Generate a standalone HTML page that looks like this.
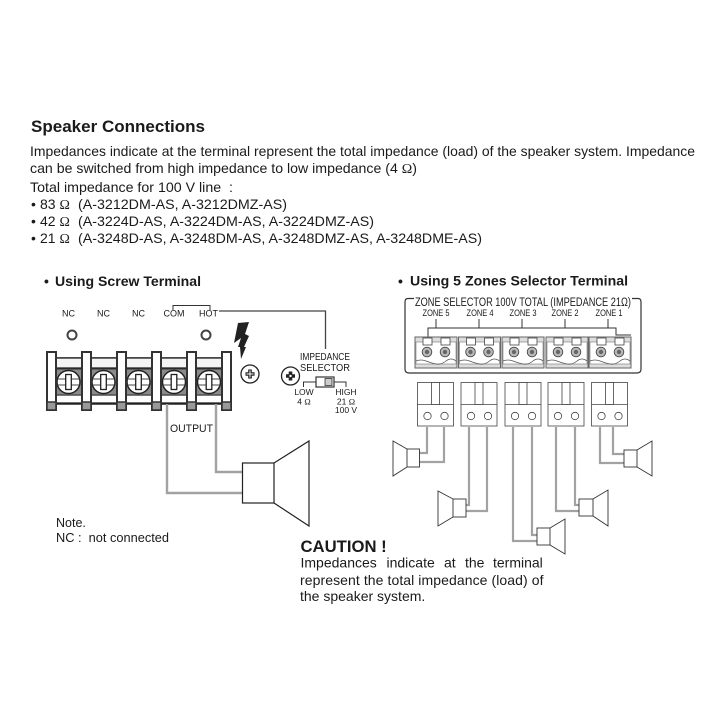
<!DOCTYPE html>
<html><head><meta charset="utf-8"><style>
html,body{margin:0;padding:0;background:#fff}
svg{display:block;filter:blur(.35px)}
text{font-family:"Liberation Sans",sans-serif;fill:#1a1a1a;white-space:pre}
.o{font-family:"Liberation Serif",serif}
</style></head><body>
<svg width="720" height="720" viewBox="0 0 720 720" xmlns="http://www.w3.org/2000/svg">
<defs>
<g id="post"><rect x="0" y="0" width="9" height="58" fill="#fff" stroke="#333" stroke-width="2"/><rect x="0" y="50" width="9" height="8" fill="#999" stroke="#333" stroke-width="1.500"/></g>
<g id="screw">
<rect x="-13" y="-13" width="26" height="26" fill="#8a8a8a" stroke="#333"/>
<circle r="11.500" fill="#fff" stroke="#222" stroke-width="1.500"/>
<path d="M-11 -3H11M-11 3H11" stroke="#444" stroke-width="1.100"/>
<rect x="-2.800" y="-7.500" width="5.600" height="15" fill="#fff" stroke="#222" stroke-width="1.300"/>
</g>
<g id="conn">
<rect x="0" y="0" width="42" height="31" fill="#ddd" stroke="#666"/>
<rect x="1" y="5" width="40" height="22" fill="#fff" stroke="#777" stroke-width=".6"/>
<path d="M1 24q5-2 10 0t10 3 10-3 10 0" fill="none" stroke="#555" stroke-width=".8"/>
<rect x="8" y="1" width="9" height="7" fill="#fff" stroke="#444" stroke-width=".8"/>
<rect x="26" y="1" width="9" height="7" fill="#fff" stroke="#444" stroke-width=".8"/>
<circle cx="12" cy="15" r="4.800" fill="#bbb" stroke="#444" stroke-width=".9"/><circle cx="12" cy="15" r="2.200" fill="#666"/>
<circle cx="30" cy="15" r="4.800" fill="#bbb" stroke="#444" stroke-width=".9"/><circle cx="30" cy="15" r="2.200" fill="#666"/>
</g>
<g id="plug" fill="#fff" stroke="#444" stroke-width=".8">
<rect x="0" y="0" width="36" height="43.500"/>
<path d="M0 22H36"/>
<rect x="14" y="0" width="8" height="22"/>
<circle cx="10" cy="33.500" r="3.700"/><circle cx="27" cy="33.500" r="3.700"/>
</g>
</defs>

<text x="31" y="132" font-size="17" font-weight="bold" fill="#111" textLength="174" lengthAdjust="spacingAndGlyphs">Speaker Connections</text>
<g font-size="14">
<text x="30" y="156" textLength="665" lengthAdjust="spacingAndGlyphs">Impedances indicate at the terminal represent the total impedance (load) of the speaker system. Impedance</text>
<text x="30" y="173" textLength="387" lengthAdjust="spacingAndGlyphs">can be switched from high impedance to low impedance (4 <tspan class="o">Ω</tspan>)</text>
<text x="30" y="192" textLength="203" lengthAdjust="spacingAndGlyphs">Total impedance for 100 V line  :</text>
<text x="31" y="209">•</text><text x="40" y="209">83 <tspan class="o">Ω</tspan></text><text x="78" y="209" textLength="209" lengthAdjust="spacingAndGlyphs">(A-3212DM-AS, A-3212DMZ-AS)</text>
<text x="31" y="226">•</text><text x="40" y="226">42 <tspan class="o">Ω</tspan></text><text x="78" y="226" textLength="296" lengthAdjust="spacingAndGlyphs">(A-3224D-AS, A-3224DM-AS, A-3224DMZ-AS)</text>
<text x="31" y="243">•</text><text x="40" y="243">21 <tspan class="o">Ω</tspan></text><text x="78" y="243" textLength="404" lengthAdjust="spacingAndGlyphs">(A-3248D-AS, A-3248DM-AS, A-3248DMZ-AS, A-3248DME-AS)</text>
</g>

<text x="44" y="286" font-size="14" font-weight="bold" fill="#222">•</text>
<text x="55" y="286" font-size="14" font-weight="bold" fill="#222" textLength="146" lengthAdjust="spacingAndGlyphs">Using Screw Terminal</text>
<text x="398" y="286" font-size="14" font-weight="bold" fill="#222">•</text>
<text x="410" y="285.500" font-size="14" font-weight="bold" fill="#222" textLength="218" lengthAdjust="spacingAndGlyphs">Using 5 Zones Selector Terminal</text>

<!-- left labels -->
<g font-size="9" text-anchor="middle">
<text x="68.500" y="316.500" fill="#444">NC</text><text x="103.500" y="316.500" fill="#444">NC</text><text x="138.500" y="316.500" fill="#444">NC</text><text x="174" y="316.500" fill="#444">COM</text><text x="208.500" y="316.500" fill="#444">HOT</text>
</g>
<path d="M173 310V305.500H210V310" fill="none" stroke="#333"/>
<path d="M219 311H325.500V349" fill="none" stroke="#444" stroke-width="1.300"/>
<circle cx="72" cy="335" r="4.500" fill="#fff" stroke="#444" stroke-width="2"/>
<circle cx="206" cy="335" r="4.500" fill="#fff" stroke="#444" stroke-width="2"/>

<!-- terminal block -->
<rect x="50" y="358" width="177" height="46" fill="#fff" stroke="#222" stroke-width="1.500"/>
<rect x="50" y="358" width="177" height="10" fill="#f4f4f4" stroke="#222" stroke-width="1.300"/>
<rect x="50" y="395" width="177" height="8" fill="#fff" stroke="#222" stroke-width="1.300"/>
<use href="#screw" x="68.500" y="382"/><use href="#screw" x="103.500" y="382"/><use href="#screw" x="138.500" y="382"/><use href="#screw" x="174" y="382"/><use href="#screw" x="209" y="382"/>
<use href="#post" x="47" y="352"/><use href="#post" x="82" y="352"/><use href="#post" x="117" y="352"/><use href="#post" x="152" y="352"/><use href="#post" x="187" y="352"/><use href="#post" x="222" y="352"/>

<!-- lightning -->
<path d="M238 323L249 322L245 334L249 336L244 347L246 347L241 359L240 347L238 347L241 338L234 343Z" fill="#222"/>

<!-- small screws -->
<g fill="none" stroke="#222">
<circle cx="250" cy="374" r="9" stroke-width="1.300"/>
<path d="M250 369.500v9M245.500 374h9" stroke-width="3.600"/><path d="M250 370.500v7M246.500 374h7" stroke="#fff" stroke-width="1"/>
<circle cx="290.500" cy="376" r="9" stroke-width="1.300"/>
<path d="M290.500 371.500v9M286 376h9" stroke-width="3.600"/><circle cx="290.500" cy="376" r="1.200" fill="#fff" stroke="none"/>
</g>

<!-- impedance -->
<g text-anchor="middle">
<text x="325" y="360" font-size="10.500" fill="#444" textLength="50" lengthAdjust="spacingAndGlyphs">IMPEDANCE</text>
<text x="325" y="371" font-size="10.500" fill="#444" textLength="50" lengthAdjust="spacingAndGlyphs">SELECTOR</text>
<text x="304" y="395" font-size="8.500" fill="#444">LOW</text><text x="304" y="404.500" font-size="8.500" fill="#444">4 <tspan class="o">Ω</tspan></text>
<text x="346" y="395" font-size="8.500" fill="#444">HIGH</text><text x="346" y="404.500" font-size="8.500" fill="#444">21 <tspan class="o">Ω</tspan></text><text x="346" y="413" font-size="8.500" fill="#444">100 V</text>
</g>
<path d="M303.500 387V382H316M334 382H346V387" fill="none" stroke="#333"/>
<rect x="316" y="377" width="18" height="10" fill="#fff" stroke="#333" stroke-width="1.200"/>
<rect x="325" y="378.500" width="7" height="7" fill="#ccc" stroke="#333" stroke-width=".8"/>

<!-- left wires + speaker -->
<path d="M167 404V493H242M216 404V472H242" fill="none" stroke="#a2a2a2" stroke-width="2.400"/>
<text x="170" y="432" font-size="11" fill="#333" textLength="43" lengthAdjust="spacingAndGlyphs">OUTPUT</text>
<path d="M274 463L309 441V526L274 503" fill="#fff" stroke="#222" stroke-width="1.200"/>
<rect x="242.500" y="463" width="31.500" height="40" fill="#fff" stroke="#222" stroke-width="1.200"/>

<!-- zone frame -->
<path d="M414 298.500H408Q405 298.500 405 302V369Q405 373 409 373H637Q641 373 641 369V302Q641 298.500 638 298.500H632" fill="none" stroke="#333" stroke-width="1.200"/>
<text x="415" y="306" font-size="11.500" fill="#333" textLength="216" lengthAdjust="spacingAndGlyphs">ZONE SELECTOR 100V TOTAL (IMPEDANCE 21Ω)</text>
<g font-size="9" text-anchor="middle">
<text x="436" y="316" fill="#333" textLength="27" lengthAdjust="spacingAndGlyphs">ZONE 5</text>
<text x="480" y="316" fill="#333" textLength="27" lengthAdjust="spacingAndGlyphs">ZONE 4</text>
<text x="523" y="316" fill="#333" textLength="27" lengthAdjust="spacingAndGlyphs">ZONE 3</text>
<text x="565" y="316" fill="#333" textLength="27" lengthAdjust="spacingAndGlyphs">ZONE 2</text>
<text x="609" y="316" fill="#333" textLength="27" lengthAdjust="spacingAndGlyphs">ZONE 1</text>
</g>
<path d="M436 319V328M479 319V328M522 319V328M565 319V328M608 319V328M428 337V328H616V335H631" fill="none" stroke="#333"/>
<use href="#conn" x="415" y="337"/><use href="#conn" x="458.500" y="337"/><use href="#conn" x="502" y="337"/><use href="#conn" x="546" y="337"/><use href="#conn" x="589" y="337"/>

<!-- plugs -->
<use href="#plug" x="417.500" y="382.500"/><use href="#plug" x="461" y="382.500"/><use href="#plug" x="505" y="382.500"/><use href="#plug" x="548" y="382.500"/><use href="#plug" x="591.500" y="382.500"/>

<!-- zone wires -->
<g fill="none" stroke="#a2a2a2" stroke-width="2.200">
<path d="M427 427V453H419M444 427V462H419"/>
<path d="M469 427V505H466M487 427V511H466"/>
<path d="M513 427V541H537M532 427V535H537"/>
<path d="M556 427V511H579M575 427V505H579"/>
<path d="M600 427V463H624M613 427V454H624"/>
</g>

<!-- zone speakers -->
<g fill="#fff" stroke="#333" stroke-width=".9">
<path d="M407 449L393 441V476L407 467"/><rect x="407" y="449" width="12.500" height="18"/>
<path d="M453 499L438 491V526L453 517"/><rect x="453" y="499" width="13" height="18"/>
<path d="M550 528L565 519V554L550 545"/><rect x="537" y="528" width="13" height="17"/>
<path d="M593 499L608 490V526L593 516"/><rect x="579" y="499" width="14" height="17"/>
<path d="M637 450L652 441V476L637 467"/><rect x="624" y="450" width="13" height="17"/>
</g>

<!-- note -->
<text x="56" y="527" font-size="12.500" fill="#222">Note.</text>
<text x="56" y="542" font-size="12.500" fill="#222" textLength="113" lengthAdjust="spacingAndGlyphs">NC :  not connected</text>

<!-- caution -->
<text x="300.500" y="552" font-size="16.700" font-weight="bold" fill="#111">CAUTION !</text>
<g font-size="14">
<text x="300.500" y="567.500" fill="#222">Impedances</text><text x="386.500" y="567.500" fill="#222">indicate</text><text x="444" y="567.500" fill="#222">at</text><text x="465" y="567.500" fill="#222">the</text><text x="493" y="567.500" fill="#222">terminal</text>
<text x="300" y="585" fill="#222" textLength="243.500" lengthAdjust="spacing">represent the total impedance (load) of</text>
<text x="300" y="601" fill="#222">the speaker system.</text>
</g>
</svg>
</body></html>
